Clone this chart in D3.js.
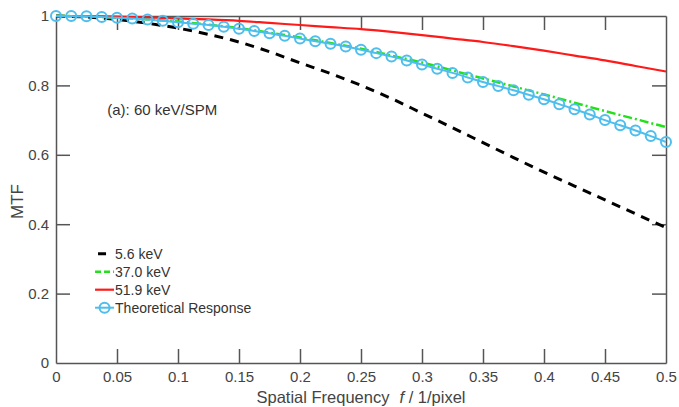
<!DOCTYPE html>
<html>
<head>
<meta charset="utf-8">
<script src="https://cdn.jsdelivr.net/npm/d3@7"></script>
<style>
  body { margin: 0; background: #fff; }
  text { font-family: "Liberation Sans", Arial, sans-serif; }
</style>
</head>
<body>
<svg id="chart" width="679" height="407"></svg>
<script>
// spatial frequency grid (1/pixel)
const freq = [0, 0.025, 0.05, 0.075, 0.1, 0.125, 0.15, 0.175, 0.2, 0.225, 0.25,
  0.275, 0.3, 0.325, 0.35, 0.375, 0.4, 0.425, 0.45, 0.475, 0.5];

const mtf56 = [1, 0.997, 0.99, 0.979, 0.965, 0.947, 0.925, 0.897, 0.865, 0.834, 0.8,
  0.762, 0.72, 0.678, 0.635, 0.592, 0.55, 0.51, 0.47, 0.43, 0.39];
const mtf370 = [1, 0.999, 0.995, 0.99, 0.984, 0.975, 0.965, 0.952, 0.938, 0.922, 0.906,
  0.886, 0.866, 0.843, 0.82, 0.797, 0.774, 0.75, 0.726, 0.703, 0.68];
const mtf519 = [1, 0.9995, 0.998, 0.996, 0.993, 0.99, 0.986, 0.98, 0.974, 0.968, 0.962,
  0.954, 0.945, 0.935, 0.925, 0.913, 0.9, 0.886, 0.872, 0.856, 0.84];

// theoretical response, sampled every 0.0125
const theoFreq = [0, 0.0125, 0.025, 0.0375, 0.05, 0.0625, 0.075, 0.0875, 0.1, 0.1125,
  0.125, 0.1375, 0.15, 0.1625, 0.175, 0.1875, 0.2, 0.2125, 0.225, 0.2375, 0.25,
  0.2625, 0.275, 0.2875, 0.3, 0.3125, 0.325, 0.3375, 0.35, 0.3625, 0.375, 0.3875,
  0.4, 0.4125, 0.425, 0.4375, 0.45, 0.4625, 0.475, 0.4875, 0.5];
const theoMtf = [1, 0.9997, 0.999, 0.997, 0.995, 0.993, 0.99, 0.986, 0.982, 0.978,
  0.974, 0.969, 0.963, 0.957, 0.95, 0.943, 0.935, 0.927, 0.92, 0.912, 0.903,
  0.893, 0.883, 0.872, 0.86, 0.848, 0.836, 0.823, 0.81, 0.798, 0.786, 0.773,
  0.76, 0.746, 0.731, 0.716, 0.7, 0.685, 0.67, 0.654, 0.637];

const xTicks = [0, 0.05, 0.1, 0.15, 0.2, 0.25, 0.3, 0.35, 0.4, 0.45, 0.5];
const yTicks = [0, 0.2, 0.4, 0.6, 0.8, 1];

const series = [
  { name: "5.6 keV", values: mtf56, color: "#000", width: 3, dash: "9,7", legendDash: "0,3,8,20" },
  { name: "37.0 keV", values: mtf370, color: "#22e01a", width: 2.5, dash: "9,3,2,3", legendDash: "6,3" },
  { name: "51.9 keV", values: mtf519, color: "#ff1a1a", width: 2.2, dash: null, legendDash: null }
];
const theoColor = "#4dbeee";

const svg = d3.select("#chart");
const margin = { top: 16, right: 13, bottom: 44, left: 56 };
const width = 679 - margin.left - margin.right;
const height = 407 - margin.top - margin.bottom;
const axisColor = "#555";
const g = svg.append("g").attr("transform", `translate(${margin.left},${margin.top})`);

const x = d3.scaleLinear().domain([0, 0.5]).range([0, width]);
const y = d3.scaleLinear().domain([0, 1]).range([height, 0]);

// Axes (ticks inward, mirrored on top and right)
const fmt = d3.format("~g");
const tickLen = 14;
const axBottom = g.append("g").attr("transform", `translate(0,${height})`)
  .call(d3.axisBottom(x).tickValues(xTicks).tickSizeInner(-tickLen).tickSizeOuter(0).tickPadding(8).tickFormat(fmt));
const axLeft = g.append("g")
  .call(d3.axisLeft(y).tickValues(yTicks).tickSizeInner(-tickLen).tickSizeOuter(0).tickPadding(7).tickFormat(fmt));
const axTop = g.append("g")
  .call(d3.axisTop(x).tickValues(xTicks.slice(1, -1)).tickSizeInner(-tickLen).tickSizeOuter(0).tickFormat(""));
const axRight = g.append("g").attr("transform", `translate(${width},0)`)
  .call(d3.axisRight(y).tickValues(yTicks.slice(1, -1)).tickSizeInner(-tickLen).tickSizeOuter(0).tickFormat(""));

[axBottom, axLeft, axTop, axRight].forEach((a) => {
  a.selectAll("path.domain").attr("stroke", axisColor).attr("stroke-width", 1.5);
  a.selectAll(".tick line").attr("stroke", axisColor).attr("stroke-width", 1.5);
  a.selectAll(".tick text").attr("fill", "#444").style("font-size", "15px");
});
axBottom.selectAll(".tick line").filter((d) => d === 0 || d === 0.5).remove();
axLeft.selectAll(".tick line").filter((d) => d === 0 || d === 1).remove();

// Data lines
const line = d3.line().x((d) => x(d[0])).y((d) => y(d[1])).curve(d3.curveMonotoneX);

series.forEach((s) => {
  g.append("path")
    .datum(freq.map((f, i) => [f, s.values[i]]))
    .attr("fill", "none")
    .attr("stroke", s.color)
    .attr("stroke-width", s.width)
    .attr("stroke-dasharray", s.dash)
    .attr("d", line);
});

const theo = theoFreq.map((f, i) => [f, theoMtf[i]]);
g.append("path")
  .datum(theo)
  .attr("fill", "none")
  .attr("stroke", theoColor)
  .attr("stroke-width", 2)
  .attr("d", line);
g.selectAll("circle.theo")
  .data(theo)
  .enter()
  .append("circle")
  .attr("class", "theo")
  .attr("cx", (d) => x(d[0]))
  .attr("cy", (d) => y(d[1]))
  .attr("r", 5)
  .attr("fill", "none")
  .attr("stroke", theoColor)
  .attr("stroke-width", 2);

// Annotation
g.append("text")
  .attr("x", x(0.042)).attr("y", y(0.715))
  .attr("fill", "#333").style("font-size", "15px")
  .text("(a): 60 keV/SPM");

// Legend
const legend = g.append("g").attr("transform", `translate(${x(0.032)},${y(0.315)})`);
const rows = series.map((s) => ({ name: s.name, color: s.color, width: s.width, dash: s.legendDash }))
  .concat([{ name: "Theoretical Response", color: theoColor, width: 2, dash: null, marker: true }]);
rows.forEach((r, i) => {
  const row = legend.append("g").attr("transform", `translate(0,${i * 18})`);
  row.append("line")
    .attr("x1", 0).attr("x2", 19)
    .attr("stroke", r.color)
    .attr("stroke-width", r.width)
    .attr("stroke-dasharray", r.dash);
  if (r.marker) {
    row.append("circle").attr("cx", 9.5).attr("r", 5)
      .attr("fill", "none").attr("stroke", r.color).attr("stroke-width", 2);
  }
  row.append("text")
    .attr("x", 20).attr("dy", "0.35em")
    .attr("fill", "#333").style("font-size", "14px")
    .text(r.name);
});

// Axis titles
const xTitle = svg.append("text")
  .attr("x", margin.left + width / 2).attr("y", 403)
  .attr("text-anchor", "middle")
  .attr("fill", "#444").style("font-size", "16.5px");
xTitle.append("tspan").text("Spatial Frequency");
xTitle.append("tspan").attr("dx", 10).style("font-style", "italic").text("f");
xTitle.append("tspan").text(" / 1/pixel");

svg.append("text")
  .attr("transform", `translate(23,${margin.top + height / 2 + 12}) rotate(-90)`)
  .attr("text-anchor", "middle")
  .attr("fill", "#444").style("font-size", "17px")
  .text("MTF");
</script>
</body>
</html>
